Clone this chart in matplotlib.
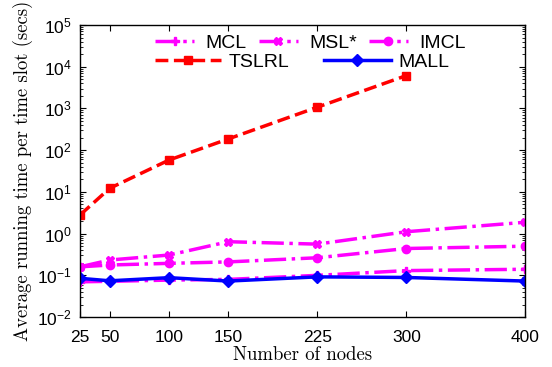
import numpy as np
import matplotlib
matplotlib.use('Agg')
import matplotlib.pyplot as plt
from matplotlib.ticker import LogLocator, NullFormatter

plt.rcParams['font.family'] = ['Liberation Sans', 'DejaVu Sans']
plt.rcParams['mathtext.default'] = 'regular'

# Datos
nodes = [25, 50, 100, 150, 225, 300, 400]
mcl = [0.070, 0.072, 0.077, 0.080, 0.100, 0.130, 0.140]
msl = [0.16, 0.233, 0.307, 0.64, 0.56, 1.11, 1.87]
imcl = [0.16, 0.177, 0.194, 0.21, 0.264, 0.44, 0.50]
tslrl_nodes = [25, 50, 100, 150, 225, 300]
tslrl = [2.8, 12.2, 58, 186, 1070, 6120]
mall = [0.085, 0.074, 0.088, 0.073, 0.092, 0.089, 0.073]
y_ticks = [1e-2, 1e-1, 1e0, 1e1, 1e2, 1e3, 1e4, 1e5]

fig = plt.figure(figsize=(5.52, 3.67), dpi=100)
ax = fig.add_axes([0.145, 0.136, 0.806, 0.796])

mag = '#ff00ff'
l1, = ax.plot(nodes, mcl, color=mag, ls='-.', lw=2.5, marker='P', ms=6, label='MCL')
l2, = ax.plot(nodes, msl, color=mag, ls='-.', lw=2.5, marker='X', ms=6, label='MSL*')
l3, = ax.plot(nodes, imcl, color=mag, ls='-.', lw=2.5, marker='o', ms=6, label='IMCL')
l4, = ax.plot(tslrl_nodes, tslrl, color='red', ls='--', lw=2.5, marker='s', ms=6, label='TSLRL')
l5, = ax.plot(nodes, mall, color='blue', ls='-', lw=2.5, marker='D', ms=6, label='MALL')

ax.set_yscale('log')
ax.set_xlim(25, 400)
ax.set_ylim(1e-2, 1e5)
ax.set_xticks(nodes)
ax.set_yticks(y_ticks)
ax.yaxis.set_minor_locator(LogLocator(base=10, subs=np.arange(2, 10), numticks=20))
ax.yaxis.set_minor_formatter(NullFormatter())
ax.tick_params(which='both', direction='in', top=True, right=True, labelsize=12.5)
ax.tick_params(which='major', length=4, pad=6)
ax.tick_params(axis='x', which='major', pad=9)
ax.tick_params(which='minor', length=2)
for s in ax.spines.values():
    s.set_linewidth(1.0)

ax.set_xlabel('Number of nodes', family='cmr10', fontsize=13.5, labelpad=1)
ax.set_ylabel('Average running time per time slot (secs)', family='cmr10', fontsize=13.5, labelpad=3)

leg1 = ax.legend(handles=[l1, l2, l3], ncol=3, loc='upper center', bbox_to_anchor=(0.518, 1.0),
                 frameon=False, fontsize=14, handlelength=2.0, columnspacing=0.6,
                 handletextpad=0.6, borderaxespad=0.1)
ax.add_artist(leg1)
ax.legend(handles=[l4, l5], ncol=2, loc='upper center', bbox_to_anchor=(0.499, 0.935),
          frameon=False, fontsize=14, handlelength=3.4, columnspacing=1.8,
          handletextpad=0.4, borderaxespad=0.1)

fig.savefig('out.png', dpi=100)
